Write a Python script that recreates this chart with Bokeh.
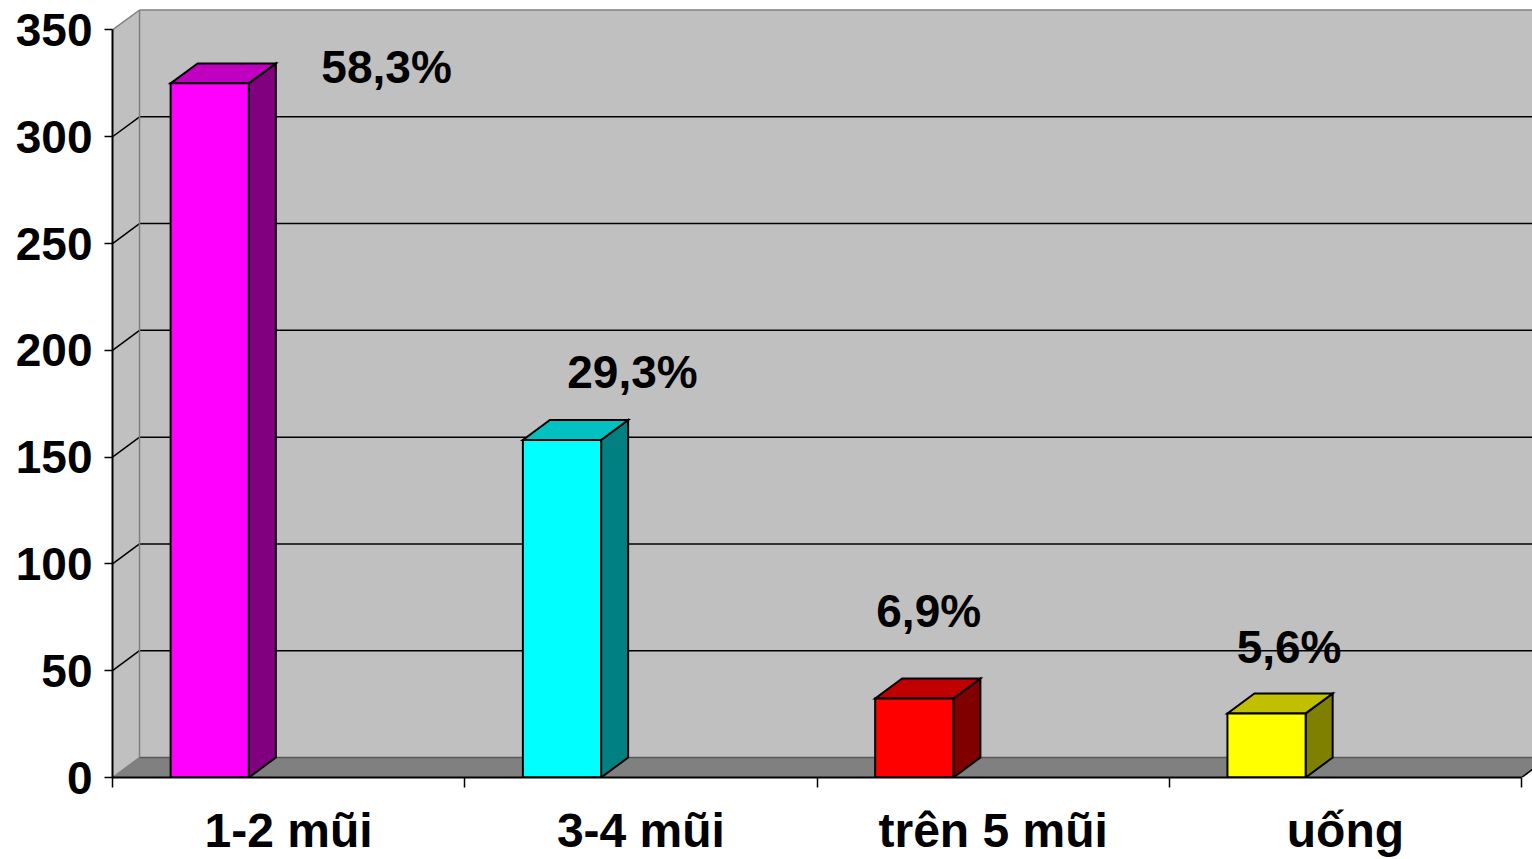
import numpy as np
from bokeh.plotting import figure
from bokeh.models import Range1d, FixedTicker
from bokeh.core.properties import value
from bokeh.embed import file_html
from bokeh.resources import INLINE

# --- data -------------------------------------------------------------
categories = ["1-2 mũi", "3-4 mũi", "trên 5 mũi", "uống"]
counts = [325, 158, 37, 30]
percent_labels = ["58,3%", "29,3%", "6,9%", "5,6%"]
y_ticks = [0, 50, 100, 150, 200, 250, 300, 350]

# --- styling -----------------------------------------------------------
front_colors = ["#FF00FF", "#00FFFF", "#FF0000", "#FFFF00"]
top_colors = ["#C000C0", "#00C0C0", "#C00000", "#C0C000"]
side_colors = ["#800080", "#008080", "#800000", "#808000"]

# free-standing percent labels (x in category units, y = text baseline)
label_x = [0.778, 1.476, 2.317, 3.340]
label_y = [332.5, 189.8, 78.0, 61.2]

FONT = "Liberation Sans"
DX = 0.0767      # depth offset of the 3-D box, category units
DY = 9.36        # depth offset of the 3-D box, value units
BAR_LEFT = 0.165
BAR_W = 0.222
X_MAX = 4.031
Y_MAX = 363.8

n = len(categories)
y_top = y_ticks[-1]
x_end = n + DX

p = figure(width=1532, height=859,
           x_range=Range1d(0, X_MAX), y_range=Range1d(0, Y_MAX),
           output_backend="svg", toolbar_location=None,
           min_border_left=112, min_border_bottom=82,
           min_border_top=0, min_border_right=0)
p.outline_line_color = None
p.grid.visible = False
p.background_fill_color = "white"
p.border_fill_color = "white"

# --- walls and floor ---------------------------------------------------
p.patch([DX, x_end, x_end, DX], [DY, DY, y_top + DY, y_top + DY],
        fill_color="#C0C0C0", line_color=None)
p.patch([0, DX, DX, 0], [0, DY, y_top + DY, y_top],
        fill_color="#C0C0C0", line_color=None)
p.patch([0, n, n + DX, DX], [0, 0, DY, DY],
        fill_color="#808080", line_color=None)

grid_vals = np.array(y_ticks[1:-1], dtype=float)
m = len(grid_vals)
# gridlines on the back wall and their slants on the side wall
p.segment(x0=[DX] * m, y0=grid_vals + DY, x1=[x_end] * m, y1=grid_vals + DY,
          line_color="black", line_width=1.5)
p.segment(x0=[0] * m, y0=grid_vals, x1=[DX] * m, y1=grid_vals + DY,
          line_color="black", line_width=1.5)

# wall edges
p.segment(x0=[DX, 0, DX, 0], y0=[y_top + DY, y_top, DY, 0],
          x1=[x_end, DX, DX, DX], y1=[y_top + DY, y_top + DY, y_top + DY, DY],
          line_color="#808080", line_width=1.5)
p.segment(x0=[DX], y0=[DY], x1=[x_end], y1=[DY],
          line_color="#5A5A5A", line_width=1.5)
p.segment(x0=[n], y0=[0], x1=[n + DX], y1=[DY],
          line_color="black", line_width=1.5)

# --- 3-D columns -------------------------------------------------------
vals = np.array(counts, dtype=float)
x0 = np.arange(n) + BAR_LEFT
x1 = x0 + BAR_W

side_xs = [[b, b + DX, b + DX, b] for b in x1]
side_ys = [[0, DY, h + DY, h] for h in vals]
top_xs = [[a, b, b + DX, a + DX] for a, b in zip(x0, x1)]
top_ys = [[h, h, h + DY, h + DY] for h in vals]

p.patches(side_xs, side_ys, fill_color=side_colors,
          line_color="black", line_width=2, line_join="miter")
p.patches(top_xs, top_ys, fill_color=top_colors,
          line_color="black", line_width=2, line_join="miter")
p.quad(left=x0, right=x1, bottom=0, top=vals, fill_color=front_colors,
       line_color="black", line_width=2, line_join="miter")

# --- percentage labels -------------------------------------------------
p.text(x=label_x, y=label_y, text=percent_labels,
       text_font=value(FONT), text_font_style="bold", text_font_size="46px",
       text_align="center", text_baseline="alphabetic", text_color="black")

# --- axes --------------------------------------------------------------
yax = p.yaxis[0]
yax.ticker = FixedTicker(ticks=y_ticks)
yax.bounds = (0, y_top)
yax.axis_line_color = "black"
yax.axis_line_width = 2
yax.major_tick_out = 8
yax.major_tick_in = 0
yax.major_tick_line_width = 1.5
yax.minor_tick_line_color = None
yax.major_label_text_font = FONT
yax.major_label_text_font_style = "bold"
yax.major_label_text_font_size = "46px"
yax.major_label_text_color = "black"
yax.major_label_standoff = 12

xax = p.xaxis[0]
xax.ticker = FixedTicker(ticks=[i + 0.5 for i in range(n)],
                         minor_ticks=[float(i) for i in range(n + 1)])
xax.major_label_overrides = {i + 0.5: c for i, c in enumerate(categories)}
xax.bounds = (0, n)
xax.axis_line_color = "black"
xax.axis_line_width = 2
xax.major_tick_line_color = None
xax.major_tick_out = 0
xax.major_tick_in = 0
xax.minor_tick_out = 10
xax.minor_tick_in = 0
xax.minor_tick_line_color = "black"
xax.minor_tick_line_width = 1.5
xax.major_label_text_font = FONT
xax.major_label_text_font_style = "bold"
xax.major_label_text_font_size = "48px"
xax.major_label_text_color = "black"
xax.major_label_standoff = 16

open("out.html", "w").write(file_html(p, INLINE))
